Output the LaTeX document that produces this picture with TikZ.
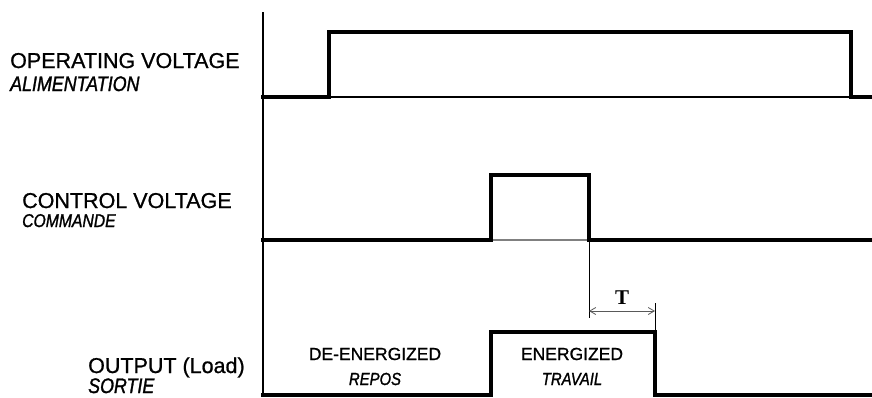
\documentclass[tikz,border=0pt]{standalone}
\usepackage{fontspec}
\setmainfont{Liberation Sans}[FakeBold=0.9]
\newfontfamily\condensed{Liberation Sans}[FakeStretch=0.85,FakeBold=1.3]
\newfontfamily\serifT{Liberation Serif}
\usetikzlibrary{arrows,arrows.meta}

\begin{document}
\begin{tikzpicture}[x=1pt,y=-1pt]
			\tikzstyle{signal}=[line width=3.6pt,line join=miter,line cap=rect]
			\tikzstyle{thin}=[line width=1.2pt]
			\tikzstyle{title}=[inner sep=0pt,anchor=base west,font=\fontsize{21.5}{22}\selectfont]
			\tikzstyle{subtitle}=[inner sep=0pt,anchor=base west,font=\condensed\fontsize{21}{21}\selectfont\itshape]
			\tikzstyle{state}=[inner sep=0pt,anchor=base,font=\fontsize{17.5}{18}\selectfont]
			\tikzstyle{substate}=[inner sep=0pt,anchor=base,font=\condensed\fontsize{17.5}{18}\selectfont\itshape]
			\useasboundingbox (0,0) rectangle (872,397);

			% axis
			\draw[thin] (263,12) -- (263,397);

			% operating voltage
			\draw[thin] (329,97) -- (851,97);
			\draw[signal] (263,97) -- (329,97) -- (329,32) -- (851,32) -- (851,97) -- (873,97);
			\node[title] (op) at (10,68) {OPERATING VOLTAGE};
			\node[subtitle] (opfr) at (10,91) {ALIMENTATION};

			% control voltage
			\draw[thin,gray] (491,240) -- (589,240);
			\draw[signal] (263,240) -- (491,240) -- (491,175) -- (589,175) -- (589,240) -- (873,240);
			\node[title] (ctl) at (22,208) {CONTROL VOLTAGE};
			\node[subtitle,font=\condensed\fontsize{18.5}{19}\selectfont\itshape] (ctlfr) at (22,227) {COMMANDE};

			% output
			\draw[signal] (263,395) -- (491,395) -- (491,332) -- (655,332) -- (655,395) -- (873,395);
			\node[title] (out) at (88,373) {OUTPUT (Load)};
			\node[subtitle] (outfr) at (88,393) {SORTIE};
			\node[state] (off) at (375,360) {DE-ENERGIZED};
			\node[substate] (offfr) at (375,385) {REPOS};
			\node[state] (on) at (572,360) {ENERGIZED};
			\node[substate] (onfr) at (572,385) {TRAVAIL};

			% delay T
			\coordinate (ts) at (589,311);
			\coordinate (te) at (655,311);
			\draw[line width=0.8pt] (589,242) -- (589,318);
			\draw[line width=0.8pt] (655,303) -- (655,330);
			\draw[line width=0.8pt,gray!70!black,{Straight Barb[length=6pt,width=7pt]}-{Straight Barb[length=6pt,width=7pt]}] (ts) -- (te);
			\node[inner sep=0pt,anchor=base,font=\serifT\bfseries\fontsize{21}{21}\selectfont] (tlabel) at (622,304) {T};
			\end{tikzpicture}
\end{document}
